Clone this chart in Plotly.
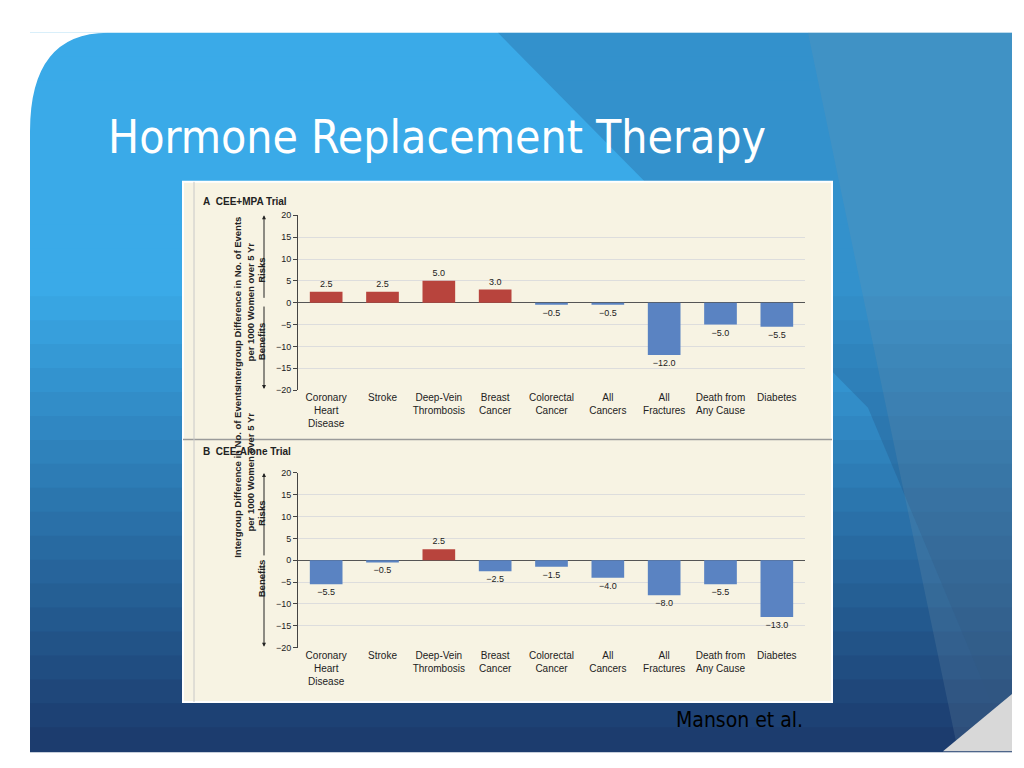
import plotly.graph_objects as go

categories = ["Coronary<br>Heart<br>Disease", "Stroke", "Deep-Vein<br>Thrombosis", "Breast<br>Cancer",
              "Colorectal<br>Cancer", "All<br>Cancers", "All<br>Fractures", "Death from<br>Any Cause", "Diabetes"]
cee_mpa = [2.5, 2.5, 5.0, 3.0, -0.5, -0.5, -12.0, -5.0, -5.5]
cee_alone = [-5.5, -0.5, 2.5, -2.5, -1.5, -4.0, -8.0, -5.5, -13.0]
tick_vals = [20, 15, 10, 5, 0, -5, -10, -15, -20]
tick_text = ["20", "15", "10", "5", "0", "−5", "−10", "−15", "−20"]

W, H = 1024, 768
def px(x): return x / W
def py(y): return 1 - y / H

RED, BLUE = "#b8443d", "#5a83c2"
FONT = "Liberation Sans Narrow, Liberation Sans, Arial, sans-serif"

fig = go.Figure()
shapes = []
top = (58, 170, 232); bot = (28, 60, 110)
n = 30
for i in range(n):
    t = i / (n - 1)
    c = tuple(int(top[k] + (bot[k] - top[k]) * max(0, (t - 0.35) / 0.65)) for k in range(3))
    y0 = 20 + (748 - 20) * i / n
    y1 = 20 + (748 - 20) * (i + 1) / n + 1
    shapes.append(dict(type="rect", xref="paper", yref="paper", x0=px(22), x1=px(1004),
                       y0=py(y1), y1=py(y0), fillcolor="rgb(%d,%d,%d)" % c, line_width=0, layer="below"))
shapes.append(dict(type="path", xref="paper", yref="paper",
                   path=f"M {px(490)},{py(20)} L {px(1004)},{py(20)} L {px(1004)},{py(748)} L {px(860)},{py(400)} Z",
                   fillcolor="rgba(30,70,120,0.25)", line_width=0, layer="below"))
shapes.append(dict(type="path", xref="paper", yref="paper",
                   path=f"M {px(800)},{py(20)} L {px(1004)},{py(20)} L {px(1004)},{py(748)} L {px(950)},{py(748)} Z",
                   fillcolor="rgba(120,150,170,0.2)", line_width=0, layer="below"))
shapes.append(dict(type="path", xref="paper", yref="paper",
                   path=f"M {px(22)},{py(20)} L {px(100)},{py(20)} Q {px(22)},{py(20)} {px(22)},{py(120)} Z",
                   fillcolor="white", line_width=0, layer="below"))
shapes.append(dict(type="path", xref="paper", yref="paper",
                   path=f"M {px(1004)},{py(690)} L {px(1004)},{py(748)} L {px(935)},{py(748)} Z",
                   fillcolor="#d8d8d8", line_width=0, layer="below"))
shapes.append(dict(type="rect", xref="paper", yref="paper", x0=px(175), x1=px(824), y0=py(698), y1=py(171),
                   fillcolor="#f7f3e3", line=dict(color="white", width=2), layer="below"))
shapes.append(dict(type="line", xref="paper", yref="paper", x0=px(175), x1=px(824), y0=py(432), y1=py(432),
                   line=dict(color="#9a9a9a", width=1.5), layer="below"))
shapes.append(dict(type="line", xref="paper", yref="paper", x0=px(186), x1=px(186), y0=py(698), y1=py(171),
                   line=dict(color="#c8c8c8", width=1), layer="below"))

def txt(v):
    return ("%.1f" % v).replace("-", "−")

for vals, ax in [(cee_mpa, ""), (cee_alone, "2")]:
    fig.add_trace(go.Bar(x=categories, y=vals, xaxis="x" + ax, yaxis="y" + ax,
                         marker=dict(color=[RED if v > 0 else BLUE for v in vals], line=dict(width=0)),
                         text=[txt(v) for v in vals], textposition="outside", cliponaxis=False,
                         textfont=dict(family=FONT, size=9, color="#222"), width=0.58, showlegend=False))

yax = dict(range=[-20, 20], tickvals=tick_vals, ticktext=tick_text,
           gridcolor="#dddddd", zeroline=True, zerolinecolor="#555", zerolinewidth=1,
           ticks="outside", ticklen=4, tickcolor="#444", showline=True, linecolor="#444",
           tickfont=dict(family=FONT, size=9, color="#222"))
xax = dict(showgrid=False, tickfont=dict(family=FONT, size=10, color="#222"), ticks="")
fig.update_layout(
    width=W, height=H, margin=dict(l=0, r=0, t=0, b=0), paper_bgcolor="white", plot_bgcolor="#fdfcf7",
    shapes=shapes,
    xaxis=dict(domain=[px(290), px(797)], anchor="y", **xax),
    yaxis=dict(domain=[py(382), py(205)], anchor="x", **yax),
    xaxis2=dict(domain=[px(290), px(797)], anchor="y2", **xax),
    yaxis2=dict(domain=[py(643), py(466)], anchor="x2", **yax),
)

ann = []
ann.append(dict(text="Hormone Replacement Therapy", x=px(98), y=py(126), xref="paper", yref="paper",
                xanchor="left", yanchor="middle", showarrow=False,
                font=dict(family="DejaVu Sans Condensed, DejaVu Sans, sans-serif", size=46, color="white")))
ann.append(dict(text="Manson et al.", x=px(797), y=py(731), xref="paper", yref="paper", showarrow=False,
                font=dict(family="DejaVu Sans Condensed, DejaVu Sans", size=21, color="black")))
for ytop, ymid, lab in [(183, 293, "<b>A</b>  <b>CEE+MPA Trial</b>"), (444, 554, "<b>B</b>  <b>CEE-Alone Trial</b>")]:
    ann.append(dict(text=lab, x=px(193), y=py(ytop), xref="paper", yref="paper", xanchor="left", showarrow=False,
                    font=dict(family=FONT, size=10, color="#222")))
    ann.append(dict(text="<b>Intergroup Difference in No. of Events<br>per 1000 Women over 5 Yr</b>", textangle=-90,
                    x=px(222), y=py(ymid), xref="paper", yref="paper", showarrow=False,
                    font=dict(family=FONT, size=9.5, color="#222")))
    ann.append(dict(text="<b>Risks</b>", textangle=-90, x=px(246), y=py(ymid - 47), xref="paper", yref="paper",
                    showarrow=False, font=dict(family=FONT, size=9.5, color="#222")))
    ann.append(dict(text="<b>Benefits</b>", textangle=-90, x=px(246), y=py(ymid + 40), xref="paper", yref="paper",
                    showarrow=False, font=dict(family=FONT, size=9.5, color="#222")))
    for y0, y1 in [(ymid - 4, ymid - 88), (ymid + 4, ymid + 88)]:
        ann.append(dict(text="", x=px(256), y=py(y1), ax=0, ay=y0 - y1, xref="paper", yref="paper",
                        axref="pixel", ayref="pixel", showarrow=True, arrowhead=2, arrowsize=0.8,
                        arrowwidth=1, arrowcolor="#222"))
fig.update_layout(annotations=ann)
fig.write_html("out.html")
